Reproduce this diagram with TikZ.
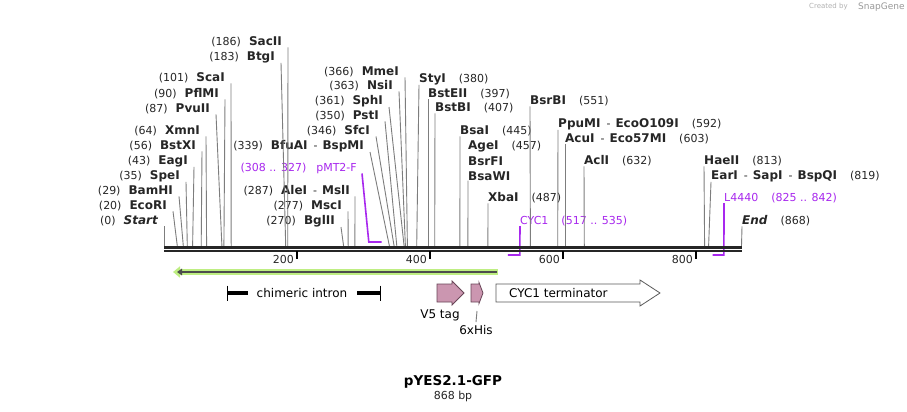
\documentclass[tikz,border=0pt]{standalone}
\usepackage{fontspec}
\setmainfont{DejaVu Sans}
\usetikzlibrary{arrows.meta,positioning}

\definecolor{primerpurple}{RGB}{168,40,238}
\definecolor{tagpink}{RGB}{203,150,176}
\definecolor{tagedge}{RGB}{105,70,88}
\definecolor{orfgreen}{RGB}{190,238,130}
\definecolor{cutgray}{RGB}{125,125,125}

\newcommand{\gapL}{\hspace{8pt}}
\newcommand{\gapR}{\hspace{13pt}}
\newcommand{\also}{\hspace{6pt}-\hspace{5pt}}
\newcommand{\enz}[1]{{\fontsize{12}{13}\selectfont\bfseries #1}}

\begin{document}
\begin{tikzpicture}[
    x=1pt, y=-1pt,
    enzleft/.style={
        anchor=east,
        inner sep=0pt,
        text=black!85,
        font=\fontsize{11}{13}\selectfont
    },
    enzright/.style={
        anchor=west,
        inner sep=0pt,
        text=black!85,
        font=\fontsize{11}{13}\selectfont
    },
    primerlbl/.style={
        inner sep=0pt,
        text=primerpurple,
        font=\fontsize{11}{13}\selectfont
    },
    featlbl/.style={
        inner sep=0pt,
        font=\fontsize{12}{14}\selectfont
    },
    cut/.style={draw=cutgray, line width=0.9pt},
    primer/.style={draw=primerpurple, line width=1.6pt},
    strand/.style={draw=black!85, line width=2.5pt},
    scaletick/.style={draw=black, line width=2pt},
    orfglow/.style={draw=orfgreen, line width=5.5pt, -{Triangle[length=7pt,width=11pt]}},
    orfline/.style={draw=black!70, line width=2pt, -{Triangle[length=5pt,width=6.5pt]}},
    intronbar/.style={draw=black, line width=4.5pt},
    intronend/.style={draw=black, line width=1pt},
    tag/.style={fill=tagpink, draw=tagedge, line width=0.8pt},
    termbox/.style={fill=white, draw=black!65, line width=0.8pt}
]

\fill[white] (0,0) rectangle (907,412);
\useasboundingbox (0,0) rectangle (907,412);

% sites on the backbone (x = 164 + 0.665 * bp)
\coordinate (s0) at (164.0,246);
\coordinate (s20) at (177.3,246);
\coordinate (s29) at (183.3,246);
\coordinate (s35) at (187.3,246);
\coordinate (s43) at (192.6,246);
\coordinate (s56) at (201.2,246);
\coordinate (s64) at (206.6,246);
\coordinate (s87) at (221.9,246);
\coordinate (s90) at (223.9,246);
\coordinate (s101) at (231.2,246);
\coordinate (s183) at (285.7,246);
\coordinate (s186) at (287.7,246);
\coordinate (s270) at (343.6,246);
\coordinate (s277) at (348.2,246);
\coordinate (s287) at (354.9,246);
\coordinate (s339) at (389.4,246);
\coordinate (s346) at (394.1,246);
\coordinate (s350) at (396.8,246);
\coordinate (s361) at (404.1,246);
\coordinate (s363) at (405.4,246);
\coordinate (s366) at (407.4,246);
\coordinate (s380) at (416.7,246);
\coordinate (s397) at (428.0,246);
\coordinate (s407) at (434.7,246);
\coordinate (s445) at (459.9,246);
\coordinate (s457) at (467.9,246);
\coordinate (s487) at (487.9,246);
\coordinate (s551) at (530.4,246);
\coordinate (s592) at (557.7,246);
\coordinate (s603) at (565.0,246);
\coordinate (s632) at (584.3,246);
\coordinate (s813) at (704.6,246);
\coordinate (s819) at (708.6,246);
\coordinate (s868) at (741.5,246);

% primer ends
\coordinate (p308) at (368.8,242);
\coordinate (p327) at (381.5,242);
\coordinate (p517) at (507.8,255);
\coordinate (p535) at (519.8,255);
\coordinate (p825) at (712.6,255);
\coordinate (p842) at (723.9,255);

% left labels
\node[enzleft] (sacii) at (282,42) {(186)\gapL\enz{SacII}};
\node[enzleft] (btgi) at (275,57) {(183)\gapL\enz{BtgI}};
\node[enzleft] (scai) at (225,78) {(101)\gapL\enz{ScaI}};
\node[enzleft] (pflmi) at (219,94) {(90)\gapL\enz{PflMI}};
\node[enzleft] (pvuii) at (210,109) {(87)\gapL\enz{PvuII}};
\node[enzleft] (xmni) at (200,131) {(64)\gapL\enz{XmnI}};
\node[enzleft] (bstxi) at (196,146) {(56)\gapL\enz{BstXI}};
\node[enzleft] (eagi) at (188,161) {(43)\gapL\enz{EagI}};
\node[enzleft] (spei) at (180,176) {(35)\gapL\enz{SpeI}};
\node[enzleft] (bamhi) at (173,191) {(29)\gapL\enz{BamHI}};
\node[enzleft] (ecori) at (167,206) {(20)\gapL\enz{EcoRI}};
\node[enzleft] (start) at (158,221) {(0)\gapL\enz{\itshape Start}};

\node[enzleft] (mmei) at (399,72) {(366)\gapL\enz{MmeI}};
\node[enzleft] (nsii) at (393,86) {(363)\gapL\enz{NsiI}};
\node[enzleft] (sphi) at (383,101) {(361)\gapL\enz{SphI}};
\node[enzleft] (psti) at (379,116) {(350)\gapL\enz{PstI}};
\node[enzleft] (sfci) at (370,131) {(346)\gapL\enz{SfcI}};
\node[enzleft] (bfuai) at (364,146) {(339)\gapL\enz{BfuAI}\also\enz{BspMI}};
\node[enzleft] (alei) at (350,191) {(287)\gapL\enz{AleI}\also\enz{MslI}};
\node[enzleft] (msci) at (342,206) {(277)\gapL\enz{MscI}};
\node[enzleft] (bglii) at (335,221) {(270)\gapL\enz{BglII}};

% right labels
\node[enzright] (styi) at (419,79) {\enz{StyI}\gapR(380)};
\node[enzright] (bsteii) at (428,94) {\enz{BstEII}\gapR(397)};
\node[enzright] (bstbi) at (435,108) {\enz{BstBI}\gapR(407)};
\node[enzright] (bsai) at (460,131) {\enz{BsaI}\gapR(445)};
\node[enzright] (agei) at (468,146) {\enz{AgeI}\gapR(457)};
\node[enzright] (bsrfi) at (468,161) {\enz{BsrFI}};
\node[enzright] (bsawi) at (468,176) {\enz{BsaWI}};
\node[enzright] (xbai) at (488,198) {\enz{XbaI}\gapR(487)};
\node[enzright] (bsrbi) at (530,101) {\enz{BsrBI}\gapR(551)};
\node[enzright] (ppumi) at (558,124) {\enz{PpuMI}\also\enz{EcoO109I}\gapR(592)};
\node[enzright] (acui) at (565,139) {\enz{AcuI}\also\enz{Eco57MI}\gapR(603)};
\node[enzright] (acli) at (584,161) {\enz{AclI}\gapR(632)};
\node[enzright] (haeii) at (704,161) {\enz{HaeII}\gapR(813)};
\node[enzright] (eari) at (711,176) {\enz{EarI}\also\enz{SapI}\also\enz{BspQI}\gapR(819)};
\node[enzright] (endlbl) at (742,221) {\enz{\itshape End}\gapR(868)};

% primer labels
\node[primerlbl, anchor=east] (pmt) at (357,168) {(308 .. 327)\hspace{10pt}pMT2-F};
\node[primerlbl, anchor=west] (cyc) at (520,221) {CYC1\gapR(517 .. 535)};
\node[primerlbl, anchor=west] (l4440) at (724,198) {L4440\gapR(825 .. 842)};

% cut lines
\draw[cut] ([xshift=6pt]sacii.south east) -- (s186);
\draw[cut] ([xshift=6pt]btgi.south east) -- (s183);
\draw[cut] ([xshift=6pt]scai.south east) -- (s101);
\draw[cut] ([xshift=6pt]pflmi.south east) -- (s90);
\draw[cut] ([xshift=6pt]pvuii.south east) -- (s87);
\draw[cut] ([xshift=6pt]xmni.south east) -- (s64);
\draw[cut] ([xshift=6pt]bstxi.south east) -- (s56);
\draw[cut] ([xshift=6pt]eagi.south east) -- (s43);
\draw[cut] ([xshift=6pt]spei.south east) -- (s35);
\draw[cut] ([xshift=6pt]bamhi.south east) -- (s29);
\draw[cut] ([xshift=6pt]ecori.south east) -- (s20);
\draw[cut] ([xshift=6pt]start.south east) -- (s0);
\draw[cut] ([xshift=6pt]mmei.south east) -- (s366);
\draw[cut] ([xshift=6pt]nsii.south east) -- (s363);
\draw[cut] ([xshift=6pt]sphi.south east) -- (s361);
\draw[cut] ([xshift=6pt]psti.south east) -- (s350);
\draw[cut] ([xshift=6pt]sfci.south east) -- (s346);
\draw[cut] ([xshift=6pt]bfuai.south east) -- (s339);
\draw[cut] ([xshift=5pt]alei.south east) -- (s287);
\draw[cut] ([xshift=6pt]msci.south east) -- (s277);
\draw[cut] ([xshift=6pt]bglii.south east) -- (s270);
\draw[cut] (styi.south west) -- (s380);
\draw[cut] (bsteii.south west) -- (s397);
\draw[cut] (bstbi.south west) -- (s407);
\draw[cut] (bsai.south west) -- (s445);
\draw[cut] (bsawi.south west) -- (s457);
\draw[cut] (xbai.south west) -- (s487);
\draw[cut] (bsrbi.south west) -- (s551);
\draw[cut] (ppumi.south west) -- (s592);
\draw[cut] (acui.south west) -- (s603);
\draw[cut] (acli.south west) -- (s632);
\draw[cut] (haeii.south west) -- (s813);
\draw[cut] (eari.south west) -- (s819);
\draw[cut] (endlbl.south west) -- (s868);

% primers
\draw[primer] ([xshift=5pt]pmt.south east) -- (p308) -- (p327);
\draw[primer] (cyc.south west) -- (p535) -- (p517);
\draw[primer] (l4440.south west) -- (p842) -- (p825);

% backbone
\coordinate (bbL) at (164,247.3);
\coordinate (bbR) at (742,247.3);
\draw[strand] (bbL) -- (bbR);
\draw[strand, line width=2.3pt] ([yshift=-4pt]bbL) -- ([yshift=-4pt]bbR);

% scale
\draw[scaletick] (297,251) -- (297,259);
\draw[scaletick] (430,251) -- (430,259);
\draw[scaletick] (563,251) -- (563,259);
\draw[scaletick] (696,251) -- (696,259);
\node[enzleft] (t200) at (294,259) {200};
\node[enzleft] (t400) at (427,259) {400};
\node[enzleft] (t600) at (560,259) {600};
\node[enzleft] (t800) at (693,259) {800};

% ORF arrow
\coordinate (orfR) at (498,272);
\coordinate (orfL) at (173,272);
\draw[orfglow] (orfR) -- (orfL);
\draw[orfline] ([xshift=-1pt]orfR) -- ([xshift=4pt]orfL);

% chimeric intron
\node[featlbl] (intron) at (302,293) {chimeric intron};
\coordinate (intronL) at (227,293);
\coordinate (intronR) at (380,293);
\draw[intronbar] (intronL) -- ([xshift=-9pt]intron.west);
\draw[intronbar] ([xshift=10pt]intron.east) -- (intronR);
\draw[intronend] ([yshift=7.5pt]intronL) -- ([yshift=-7.5pt]intronL);
\draw[intronend] ([yshift=7.5pt]intronR) -- ([yshift=-7.5pt]intronR);

% tags
\draw[tag] (437,284) -- (452,284) -- (452,281) -- (464,293) -- (452,305) -- (452,302) -- (437,302) -- cycle;
\draw[tag] (471,284) -- (479,284) -- (479,282.5) -- (483,293) -- (479,303.5) -- (479,302) -- (471,302) -- cycle;
\coordinate (hisfoot) at (477,311);
\node[featlbl] (v5) at (440,315) {V5 tag};
\node[featlbl] (his) at (476,330) {6xHis};
\draw[cut] (hisfoot) -- ([yshift=3pt]his.north);

% terminator
\draw[termbox] (496,284) -- (640,284) -- (640,280) -- (660,293) -- (640,306) -- (640,302) -- (496,302) -- cycle;
\node[featlbl, anchor=west] (cycterm) at (509,293) {CYC1 terminator};

% title
\node[inner sep=0pt, font=\fontsize{13.5}{16}\selectfont\bfseries] (title) at (453,382) {pYES2.1-GFP};
\node[inner sep=0pt, font=\fontsize{11}{13}\selectfont, text=black!85] (bplen) at (453,396) {868 bp};

% credit
\node[inner sep=0pt, text=black!30, font=\fontsize{7}{8}\selectfont, anchor=west] (credit) at (809,7) {Created by};
\node[inner sep=0pt, text=black!40, font=\fontsize{9}{10}\selectfont, anchor=west] (sg) at (858,7) {SnapGene};

\end{tikzpicture}
\end{document}
